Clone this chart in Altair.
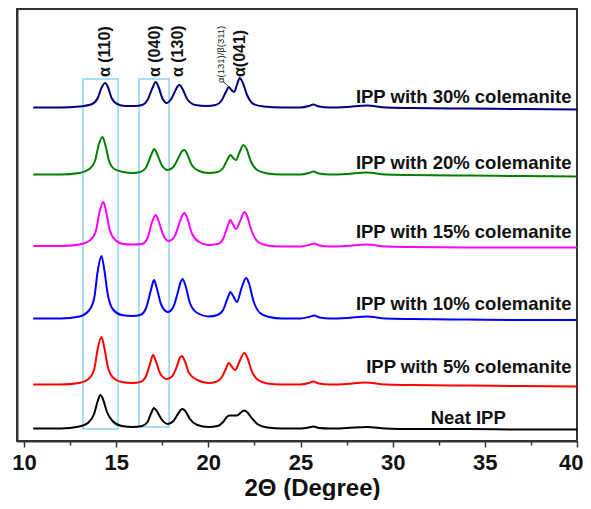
import altair as alt
import pandas as pd

# ---- data (arbitrary intensity units, stacked traces) ----
series_names = ["Neat IPP", "IPP with 5% colemanite", "IPP with 10% colemanite",
                "IPP with 15% colemanite", "IPP with 20% colemanite", "IPP with 30% colemanite"]
series_colors = ["#000000", "#ff0000", "#0000ff", "#ff00ff", "#008000", "#000080"]
offsets = [12, 56, 122, 194, 266, 333]

x_neat = [10.5, 12.0, 13.0, 13.5, 13.8, 14.0, 14.15, 14.3, 14.5, 14.8, 15.3, 15.9, 16.4, 16.7, 16.9, 17.05, 17.2, 17.45, 17.8, 18.1, 18.35, 18.5, 18.6, 18.75, 19.0, 19.4, 20.0, 20.5, 20.8, 21.0, 21.15, 21.35, 21.55, 21.8, 21.95, 22.1, 22.35, 22.7, 23.2, 24.0, 25.0, 25.45, 25.7, 26.0, 26.6, 27.5, 28.6, 29.6, 31, 34, 37, 40]
h_neat = [0.5, 0.5, 2.5, 6.5, 15, 28, 34, 29, 17, 8, 3, 2, 3, 7, 16, 21, 18, 10, 5, 8, 15, 19, 20, 18, 10, 4, 2, 3, 7, 12, 13.5, 13.5, 13.5, 17, 18.5, 17, 11, 4.5, 1.5, 0.5, 0.5, 1.5, 2.5, 1, 0.5, 1, 2, 0.5, 0, 0, -0.5, -0.5]

x_5 = [10.5, 12.0, 13.0, 13.5, 13.8, 14.0, 14.2, 14.35, 14.55, 14.85, 15.3, 15.9, 16.3, 16.6, 16.85, 17.0, 17.15, 17.4, 17.75, 18.05, 18.3, 18.45, 18.57, 18.7, 18.95, 19.4, 20.0, 20.4, 20.7, 20.95, 21.1, 21.25, 21.45, 21.7, 21.95, 22.1, 22.35, 22.7, 23.2, 24.0, 25.0, 25.45, 25.7, 26.0, 26.6, 27.5, 28.5, 29.6, 31, 34, 37, 40]
h_5 = [0.5, 0.5, 2, 6, 15, 36, 48, 38, 18, 7, 3, 2, 3, 8, 22, 30, 24, 11, 6, 9, 19, 27, 29, 25, 12, 5, 2, 3, 7, 16, 22, 19, 15, 24, 32, 28, 14, 5, 1.5, 0.5, 0.5, 2, 3.5, 1.5, 0.5, 1, 2.5, 0.5, 0, -0.5, -1, -1.5]

x_10 = [10.5, 12.0, 13.0, 13.5, 13.8, 14.0, 14.2, 14.35, 14.55, 14.85, 15.3, 15.9, 16.3, 16.6, 16.9, 17.05, 17.2, 17.45, 17.8, 18.1, 18.35, 18.5, 18.6, 18.75, 19.0, 19.4, 20.0, 20.5, 20.8, 21.05, 21.2, 21.35, 21.55, 21.8, 22.05, 22.2, 22.45, 22.8, 23.3, 24.0, 25.0, 25.45, 25.75, 26.05, 26.6, 27.5, 28.6, 29.6, 31, 34, 37, 40]
h_10 = [0.5, 0.5, 2.5, 8, 20, 48, 63, 50, 24, 9, 4, 3, 4, 10, 30, 39, 31, 14, 7, 12, 27, 37, 40, 34, 16, 6, 2.5, 4, 9, 21, 27, 23, 17, 31, 41, 36, 18, 6, 2, 0.5, 0.5, 2, 3.5, 1.5, 0.5, 1, 2.5, 0.5, 0, -0.5, -1, -1]

x_15 = [10.5, 12.0, 13.0, 13.6, 13.9, 14.1, 14.3, 14.45, 14.65, 14.95, 15.4, 15.9, 16.4, 16.7, 16.95, 17.15, 17.3, 17.55, 17.85, 18.15, 18.45, 18.6, 18.7, 18.85, 19.1, 19.5, 20.0, 20.5, 20.8, 21.05, 21.2, 21.35, 21.5, 21.75, 21.95, 22.1, 22.35, 22.7, 23.2, 24.0, 25.0, 25.45, 25.75, 26.05, 26.6, 27.5, 28.6, 29.6, 31, 34, 37, 40]
h_15 = [1, 1, 2.5, 7, 16, 35, 45, 36, 17, 7, 3, 2.5, 3, 9, 25, 32, 26, 12, 6, 10, 25, 32, 34, 29, 14, 5, 2, 3, 8, 21, 27, 22, 18, 27, 35, 31, 16, 5, 1.5, 0.5, 0.5, 2, 3.5, 1.5, 0.5, 1, 2.5, 0.5, 0, -0.5, -0.5, -0.5]

x_20 = [10.5, 12.0, 13.0, 13.55, 13.85, 14.05, 14.25, 14.4, 14.6, 14.9, 15.4, 15.9, 16.3, 16.6, 16.9, 17.07, 17.22, 17.47, 17.8, 18.1, 18.4, 18.58, 18.7, 18.85, 19.1, 19.5, 20.0, 20.5, 20.8, 21.05, 21.2, 21.35, 21.5, 21.7, 21.9, 22.05, 22.3, 22.65, 23.2, 24.0, 25.0, 25.45, 25.7, 26.0, 26.6, 27.5, 28.6, 29.6, 31, 34, 37, 40]
h_20 = [0.5, 0.5, 2, 6, 14, 30, 38, 31, 15, 6, 3, 2, 3, 7, 20, 26, 21, 10, 5, 8, 18, 24, 25, 21, 10, 4, 2, 3, 7, 16, 20, 17, 15, 23, 30, 27, 14, 5, 1.5, 0.5, 0.5, 2, 3.5, 1.5, 0.5, 1, 2.5, 0.5, 0, -0.5, -1, -1.5]

x_30 = [10.5, 12.0, 13.0, 13.7, 14.0, 14.2, 14.4, 14.55, 14.75, 15.05, 15.5, 16.0, 16.4, 16.7, 16.97, 17.15, 17.3, 17.5, 17.75, 17.95, 18.2, 18.35, 18.45, 18.6, 18.85, 19.3, 19.9, 20.4, 20.7, 20.95, 21.1, 21.25, 21.4, 21.55, 21.7, 21.85, 22.1, 22.45, 23.0, 24.0, 25.0, 25.45, 25.7, 26.0, 26.6, 27.5, 28.6, 29.6, 31, 34, 37, 40]
h_30 = [0.5, 0.5, 1.5, 4, 10, 20, 25, 21, 10, 4, 2, 2, 3, 8, 20, 26, 21, 10, 5, 8, 17, 22, 23, 19, 9, 3, 2, 3, 7, 16, 21, 18, 16, 23, 30, 26, 13, 4, 1.5, 0.5, 0.5, 2, 3.5, 1.5, 0.5, 1, 2.5, 0.5, 0, -0.5, -1, -1.5]

xs = [x_neat, x_5, x_10, x_15, x_20, x_30]
hs = [h_neat, h_5, h_10, h_15, h_20, h_30]

# series labels (data coords)
label_x = [34.1, 39.7, 39.7, 39.7, 39.7, 39.7]
label_y = [23, 74, 137, 209, 278, 344]
label_align = ["center", "right", "right", "right", "right", "right"]

# peak annotations
peak_text = ["α (110)", "α (040)", "α (130)", "α(041)"]
peak_x = [14.39, 17.1, 18.36, 21.72]
peak_y = [364, 364, 364, 364]
small_text = ["α(131)/β(311)"]
small_x = [20.69]
small_y = [358]
leader = dict(x=[20.78], x2=[21.12], y=[360], y2=[354])

# highlight boxes
box_x1 = [13.2, 16.24]
box_x2 = [15.1, 17.87]
box_y1 = [12, 14]
box_y2 = [362, 362]

# ---- build tables ----
rows = []
for name, off, xv, hv in zip(series_names, offsets, xs, hs):
    for a, b in zip(xv, hv):
        rows.append({"series": name, "x": a, "y": off + b})
df = pd.DataFrame(rows)

lab_df = pd.DataFrame({"series": series_names, "x": label_x, "y": label_y, "align": label_align})
peak_df = pd.DataFrame({"t": peak_text, "x": peak_x, "y": peak_y})
small_df = pd.DataFrame({"t": small_text, "x": small_x, "y": small_y})
leader_df = pd.DataFrame(leader)
box_df = pd.DataFrame({"x1": box_x1, "x2": box_x2, "y1": box_y1, "y2": box_y2})

FONT = "Liberation Sans"
xscale = alt.Scale(domain=[9.62, 40], nice=False, zero=False)
yscale = alt.Scale(domain=[0, 432], nice=False, zero=False)

xaxis = alt.Axis(
    values=[10, 12.5, 15, 17.5, 20, 22.5, 25, 27.5, 30, 32.5, 35, 37.5, 40],
    labelExpr="datum.value % 5 === 0 ? datum.label : ''",
    tickSize={"condition": {"test": "datum.value % 5 === 0", "value": 6}, "value": 4},
    labelAlign={"condition": {"test": "datum.value === 40", "value": "right"}, "value": "center"},
    labelOffset={"condition": {"test": "datum.value === 40", "value": 6}, "value": 0},
    tickWidth=1.5, tickColor="#333333",
    labelFont=FONT, labelFontSize=22, labelFontWeight="bold", labelColor="#111111",
    labelPadding=5, labelFlush=False, labelOverlap=False,
    title="2Θ (Degree)", titleFont=FONT, titleFontSize=24, titleFontWeight="bold",
    titleColor="#111111", titlePadding=3, titleX=295,
    domainColor="#333333", domainWidth=2, grid=False,
)
yaxis = alt.Axis(labels=False, ticks=False, title=None, grid=False,
                 domainColor="#333333", domainWidth=2)

lines = alt.Chart(df).mark_line(strokeWidth=2, interpolate="monotone").encode(
    x=alt.X("x:Q", scale=xscale, axis=xaxis),
    y=alt.Y("y:Q", scale=yscale, axis=yaxis),
    color=alt.Color("series:N", scale=alt.Scale(domain=series_names, range=series_colors), legend=None),
    detail="series:N",
)

boxes = alt.Chart(box_df).mark_rect(fill=None, stroke="#8fd3f4", strokeWidth=1.5).encode(
    x="x1:Q", x2="x2:Q", y="y1:Q", y2="y2:Q"
)

labels = alt.Chart(lab_df[lab_df["align"] == "right"]).mark_text(
    font=FONT, fontSize=18.5, fontWeight="bold", color="#111111", baseline="middle", align="right"
).encode(x="x:Q", y="y:Q", text="series:N")
labels_c = alt.Chart(lab_df[lab_df["align"] == "center"]).mark_text(
    font=FONT, fontSize=18.5, fontWeight="bold", color="#111111", baseline="middle", align="center"
).encode(x="x:Q", y="y:Q", text="series:N")

peaks = alt.Chart(peak_df).mark_text(
    font=FONT, fontSize=16, fontWeight="bold", color="#111111", angle=270, align="left", baseline="middle"
).encode(x="x:Q", y="y:Q", text="t:N")
smalls = alt.Chart(small_df).mark_text(
    font=FONT, fontSize=9.5, color="#222222", angle=270, align="left", baseline="middle"
).encode(x="x:Q", y="y:Q", text="t:N")
lead = alt.Chart(leader_df).mark_rule(color="#333333", strokeWidth=1).encode(
    x="x:Q", x2="x2:Q", y="y:Q", y2="y2:Q"
)

chart = alt.layer(boxes, lines, labels, labels_c, peaks, smalls, lead).properties(
    width=560, height=432,
    autosize=alt.AutoSizeParams(type="none"),
    padding={"left": 9, "top": 1, "right": 6, "bottom": 59},
    background="white",
).configure_view(stroke="#333333", strokeWidth=2)

chart.save("out.html", embed_options={"renderer": "svg", "actions": False})
